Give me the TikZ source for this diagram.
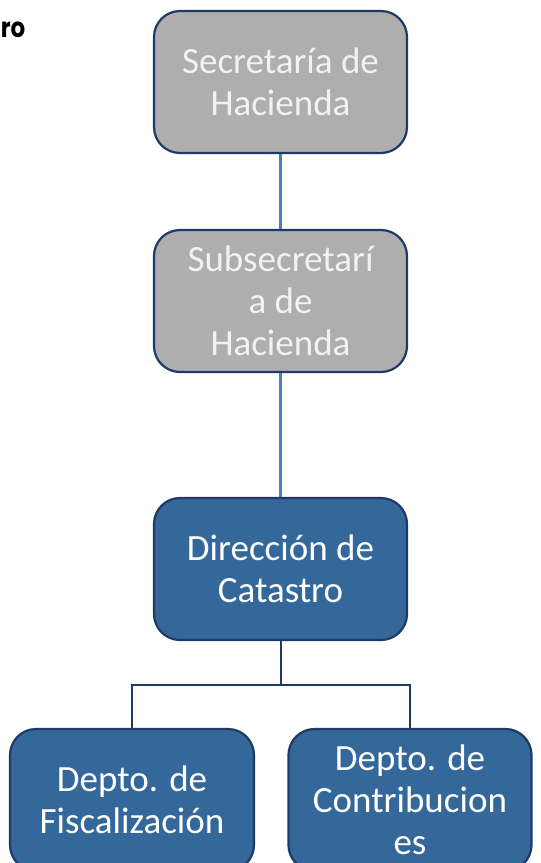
\documentclass[tikz,border=0pt]{standalone}
\usepackage{fontspec}
\setmainfont{Carlito}
\newfontfamily\titlefont{Poppins Bold}
\definecolor{grayfill}{HTML}{AEAEAE}
\definecolor{bluefill}{HTML}{34679A}
\definecolor{navy}{HTML}{1F3A66}
\definecolor{lightline}{HTML}{4A7CC0}
\definecolor{graytext}{HTML}{F2F2F2}
\tikzset{
  orgbox/.style={draw=navy, line width=2.2pt, rounded corners=26pt,
    minimum width=253pt, minimum height=142pt, inner sep=0pt,
    align=center, font=\fontsize{37}{42}\selectfont},
  graybox/.style={orgbox, fill=grayfill, text=graytext},
  bluebox/.style={orgbox, fill=bluefill, text=white},
  linklight/.style={draw=lightline, line width=2.2pt},
  linkdark/.style={draw=navy, line width=2pt},
}
\begin{document}
\begin{tikzpicture}[x=1pt,y=-1pt]
\useasboundingbox (0,0) rectangle (541,863);
\clip (0,0) rectangle (541,863);
\node[anchor=base east, font=\titlefont\fontsize{23}{26}\selectfont, inner sep=0pt] (title) at (25.5,37) {\scalebox{1}[1.2]{ro}};
\node[graybox] (sec) at (280.5,82) {Secretaría de\\Hacienda};
\node[graybox] (sub) at (280.5,301) {Subsecretarí\\a de\\Hacienda};
\node[bluebox] (dir) at (280.5,569) {Dirección de\\Catastro};
\node[bluebox, minimum width=244pt] (fis) at (132,800) {Depto. de\\Fiscalización};
\node[bluebox, minimum width=243pt] (con) at (410,800) {Depto. de\\Contribucion\\es};
\coordinate (bus) at (280.5,685);
\draw[linklight] (sec.south) -- (sub.north);
\draw[linklight] (sub.south) -- (dir.north);
\draw[linkdark] (dir.south) -- (bus);
\draw[linkdark] (fis.north) |- (bus) -| (con.north);
\end{tikzpicture}
\end{document}
